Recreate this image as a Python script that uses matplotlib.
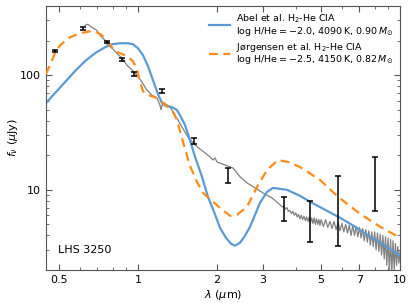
import matplotlib
matplotlib.use("Agg")
import matplotlib.pyplot as plt
from matplotlib.ticker import FixedLocator, FixedFormatter, LogLocator, NullFormatter

# observed spectrum (grey)
spec_wl = [0.628, 0.644, 0.667, 0.697, 0.716, 0.748, 0.768, 0.796, 0.831, 0.869,
           0.908, 0.949, 0.991, 1.036, 1.082, 1.131, 1.182, 1.213, 1.224, 1.246,
           1.325, 1.384, 1.472, 1.551, 1.651, 1.724, 1.802, 1.883, 1.933, 1.967,
           2.002, 2.148, 2.305, 2.451, 2.606, 2.797, 3.000, 3.248, 3.483,
           3.55, 3.6, 3.65, 3.7, 3.75, 3.8, 3.85, 3.9, 3.95, 4.0, 4.05, 4.1, 4.15,
           4.2, 4.25, 4.3, 4.35, 4.4, 4.45, 4.5, 4.55, 4.6, 4.65, 4.7, 4.75, 4.8,
           4.85, 4.9, 4.95, 5.0, 5.1, 5.2, 5.3, 5.4, 5.5, 5.6, 5.7, 5.8, 5.9, 6.0,
           6.1, 6.2, 6.3, 6.4, 6.5, 6.6, 6.7, 6.8, 6.9, 7.0, 7.1, 7.2, 7.3, 7.4,
           7.5, 7.6, 7.7, 7.8, 7.9, 8.0, 8.1, 8.2, 8.3, 8.4, 8.5, 8.6, 8.7, 8.8,
           8.9, 9.0, 9.1, 9.2, 9.3, 9.4, 9.5, 9.6, 9.7, 9.8, 9.9, 10.0]
spec_f = [272, 278, 261, 246, 223, 202, 182, 172, 155, 141,
          122, 111, 100, 87, 74, 67, 63, 55, 50, 58,
          53, 45, 35.3, 28.9, 24.6, 22.7, 21.0, 19.4, 18.2, 19.0,
          17.5, 16.5, 15.5, 13.0, 11.5, 10.4, 9.4, 8.5, 7.4,
          7.1, 7.2, 6.8, 7.0, 6.5, 6.6, 6.2, 6.5, 6.0, 6.3, 5.8, 6.1, 5.6,
          6.0, 5.5, 5.9, 5.4, 5.8, 5.3, 5.8, 5.2, 5.7, 5.1, 5.7, 5.0, 5.6,
          5.0, 5.5, 4.9, 5.5, 4.8, 5.5, 4.7, 5.3, 4.6, 5.3, 4.5, 5.2, 4.4, 5.1,
          4.3, 5.0, 4.2, 4.9, 4.0, 4.9, 4.0, 4.8, 3.9, 4.7, 3.8, 4.6, 3.6, 4.5,
          3.5, 4.4, 3.3, 4.3, 3.2, 4.3, 3.0, 4.2, 2.9, 4.1, 2.7, 4.0, 2.5, 3.9,
          2.2, 3.8, 2.0, 3.7, 1.9, 3.6, 2.0, 3.4, 2.2, 3.2, 2.3, 2.9]

# Abel et al. model
abel_wl = [0.4455, 0.4822, 0.5264, 0.5746, 0.6276, 0.6854, 0.7482, 0.7959, 0.8538,
           0.9158, 0.957, 1.0, 1.045, 1.092, 1.141, 1.192, 1.235, 1.279, 1.348,
           1.409, 1.459, 1.512, 1.579, 1.651, 1.755, 1.85, 1.95, 2.056, 2.167,
           2.265, 2.346, 2.451, 2.561, 2.677, 2.797, 2.922, 3.108, 3.276, 3.483,
           3.705, 4.153, 4.535, 5.173, 5.902, 6.734, 7.482, 8.765, 10.0]
abel_f = [57.1, 69.7, 86.9, 108.3, 132.4, 155.4, 175.2, 186.1, 189.8,
          189.8, 186.1, 171.7, 149.3, 119.8, 90.5, 68.4, 57.1, 53.8, 52.7,
          49.6, 43.1, 36.7, 27.2, 19.4, 13.0, 8.69, 6.44, 4.67, 3.82,
          3.39, 3.26, 3.46, 3.98, 4.77, 6.06, 7.71, 9.61, 10.4, 10.2,
          10.0, 8.87, 7.87, 6.70, 5.71, 4.77, 4.06, 3.26, 2.67]

# Jorgensen et al. model
jorg_wl = [0.4455, 0.4615, 0.4822, 0.5039, 0.5502, 0.6007, 0.6557, 0.6974, 0.7288,
           0.7614, 0.7959, 0.8388, 0.908, 0.957, 0.9912, 1.0177, 1.045, 1.092,
           1.161, 1.235, 1.302, 1.36, 1.409, 1.446, 1.512, 1.579, 1.68, 1.771,
           1.916, 2.056, 2.245, 2.387, 2.606, 2.846, 3.108, 3.422, 3.736, 4.153,
           4.952, 5.799, 7.036, 8.388, 10.0]
jorg_f = [102.0, 122.2, 155.4, 182.3, 214.0, 231.8, 241.3, 236.5, 222.7,
          197.5, 175.2, 158.5, 146.3, 132.4, 112.8, 86.9, 72.6, 67.0,
          64.4, 58.2, 52.7, 47.7, 40.6, 32.6, 22.7, 16.2, 11.7, 9.42,
          8.02, 6.97, 5.94, 6.06, 7.11, 10.6, 14.9, 18.2, 17.5, 15.8,
          12.2, 8.69, 6.18, 4.77, 3.82]

# photometry
phot_wl = [0.482, 0.618, 0.759, 0.867, 0.968, 1.232, 1.64, 2.20, 3.62, 4.53, 5.8, 8.03]
phot_f = [162.6, 255, 195, 137, 102, 73, 26.7, 13.3, 6.77, 5.32, 6.47, 11.3]
phot_lo = [4, 6, 5, 4, 4, 3, 1.5, 1.8, 1.47, 1.81, 3.26, 4.74]
phot_hi = [4, 6, 5, 4, 4, 3, 1.5, 2.2, 1.88, 2.75, 6.63, 8.2]

fig = plt.figure(figsize=(4.15, 3.07), dpi=100)
ax = fig.add_axes([0.111, 0.1205, 0.853, 0.8595])

ax.plot(spec_wl, spec_f, color='#808080', lw=0.9, zorder=1)
ax.plot(abel_wl, abel_f, color='#5b9bd5', lw=1.6, zorder=2,
        label='Abel et al. H$_2$-He CIA\n$\\log\\,\\mathrm{H/He} = -2.0$, 4090$\\,$K, 0.90$\\,M_{\\odot}$')
ax.plot(jorg_wl, jorg_f, color='#ff8c1a', lw=1.6, ls=(0, (4, 2.5)), zorder=3,
        label='J\u00f8rgensen et al. H$_2$-He CIA\n$\\log\\,\\mathrm{H/He} = -2.5$, 4150$\\,$K, 0.82$\\,M_{\\odot}$')
ax.errorbar(phot_wl, phot_f, yerr=[phot_lo, phot_hi], fmt='none', ecolor='black',
            elinewidth=1.1, capsize=2.5, capthick=1.1, zorder=4)

ax.set_xscale('log')
ax.set_yscale('log')
ax.set_xlim(0.446, 10)
ax.set_ylim(2.0, 400)

ax.xaxis.set_major_locator(FixedLocator([0.5, 1, 2, 3, 5, 7, 10]))
ax.xaxis.set_major_formatter(FixedFormatter(['0.5', '1', '2', '3', '5', '7', '10']))
ax.xaxis.set_minor_locator(LogLocator(base=10, subs=range(1, 10)))
ax.xaxis.set_minor_formatter(NullFormatter())
ax.yaxis.set_major_locator(FixedLocator([10, 100]))
ax.yaxis.set_major_formatter(FixedFormatter(['10', '100']))
ax.yaxis.set_minor_locator(LogLocator(base=10, subs=range(1, 10)))
ax.yaxis.set_minor_formatter(NullFormatter())

for s in ax.spines.values():
    s.set_color('#555555')
ax.tick_params(which='both', direction='in', top=True, right=True, colors='#555555',
               labelcolor='black', labelsize=8)
ax.tick_params(which='major', length=4)
ax.tick_params(which='minor', length=2)

ax.set_xlabel('$\\lambda$ ($\\mu$m)', fontsize=8, labelpad=2)
ax.set_ylabel('$f_{\\nu}$ ($\\mu$Jy)', fontsize=8, labelpad=0)
ax.text(0.034, 0.064, 'LHS 3250', transform=ax.transAxes, fontsize=8)

leg = ax.legend(loc='upper right', frameon=False, fontsize=6.8, handlelength=2.3,
                borderaxespad=0.3, labelspacing=0.3, handletextpad=0.6)
for t in leg.get_texts():
    t.set_linespacing(0.95)

fig.savefig('out.png', dpi=100)
